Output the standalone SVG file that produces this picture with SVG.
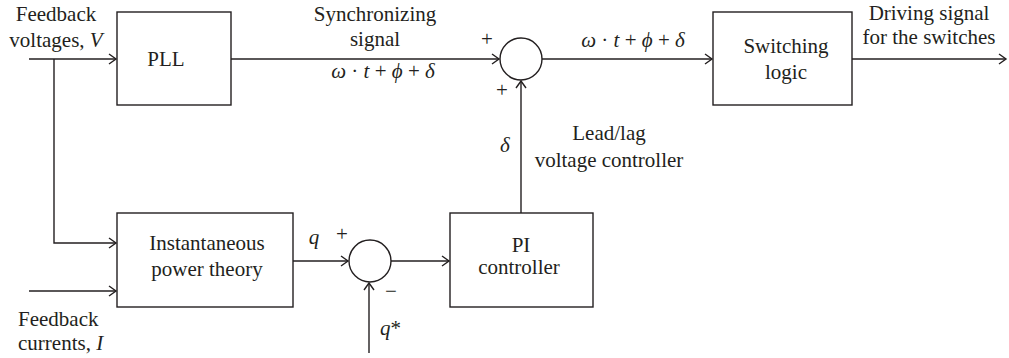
<svg xmlns="http://www.w3.org/2000/svg" width="1009" height="358" viewBox="0 0 1009 358">
<style>
.b{fill:#fff;stroke:#231f20;stroke-width:1.4}
.l{fill:none;stroke:#231f20;stroke-width:1.4}
text{font-family:"Liberation Serif","Times New Roman",serif;font-size:21px;fill:#231f20}
.m{text-anchor:middle}
.i{font-style:italic}
</style>
<defs>
<marker id="ah" markerUnits="userSpaceOnUse" markerWidth="12" markerHeight="14" refX="10" refY="7" orient="auto" overflow="visible">
<path d="M3 2 L10 7 L3 12" fill="none" stroke="#231f20" stroke-width="1.4"/>
</marker>
</defs>
<g id="connectors">
<path class="l" d="M29 59 H116" marker-end="url(#ah)"/>
<path class="l" d="M54 59 V243 H116" marker-end="url(#ah)"/>
<path class="l" d="M29 291 H116" marker-end="url(#ah)"/>
<path class="l" d="M231 59 H499" marker-end="url(#ah)"/>
<path class="l" d="M542 59 H712" marker-end="url(#ah)"/>
<path class="l" d="M852 59 H1006" marker-end="url(#ah)"/>
<path class="l" d="M521 213 V81" marker-end="url(#ah)"/>
<path class="l" d="M293 261 H348" marker-end="url(#ah)"/>
<path class="l" d="M391 261 H449" marker-end="url(#ah)"/>
<path class="l" d="M369 353 V283" marker-end="url(#ah)"/>
</g>
<g id="label-fv">
<text class="m" x="56" y="21">Feedback</text>
<text class="m" x="56" y="47">voltages, <tspan class="i">V</tspan></text>
</g>
<g id="label-fi">
<text x="18" y="326">Feedback</text>
<text x="18" y="350">currents, <tspan class="i">I</tspan></text>
</g>
<g id="pll">
<rect class="b" x="117" y="12" width="114" height="93"/>
<text class="m" x="166" y="66">PLL</text>
</g>
<g id="sync-label">
<text class="m" x="375" y="21">Synchronizing</text>
<text class="m" x="375" y="46">signal</text>
<text class="m" x="383" y="78"><tspan class="i">ω</tspan> · <tspan class="i">t</tspan> + <tspan class="i">ϕ</tspan> + <tspan class="i">δ</tspan></text>
</g>
<g id="sum1">
<circle class="b" cx="521" cy="59" r="21"/>
<text class="m" x="487" y="46">+</text>
<text class="m" x="502" y="97">+</text>
</g>
<g id="out-label">
<text class="m" x="633" y="47"><tspan class="i">ω</tspan> · <tspan class="i">t</tspan> + <tspan class="i">ϕ</tspan> + <tspan class="i">δ</tspan></text>
</g>
<g id="switching">
<rect class="b" x="713" y="12" width="139" height="93"/>
<text class="m" x="786" y="53">Switching</text>
<text class="m" x="786" y="79">logic</text>
</g>
<g id="drive-label">
<text class="m" x="929" y="20">Driving signal</text>
<text class="m" x="929" y="44">for the switches</text>
</g>
<g id="leadlag-label">
<text class="m" x="505" y="152" font-style="italic">δ</text>
<text class="m" x="609" y="140">Lead/lag</text>
<text class="m" x="609" y="167">voltage controller</text>
</g>
<g id="ipt">
<rect class="b" x="117" y="213" width="176" height="94"/>
<text class="m" x="207" y="250">Instantaneous</text>
<text class="m" x="207" y="276">power theory</text>
</g>
<g id="sum2">
<circle class="b" cx="370" cy="261" r="21"/>
<text class="i" x="314" y="244" text-anchor="middle">q</text>
<text class="m" x="342" y="241">+</text>
<text class="m" x="391" y="298">−</text>
<text x="380" y="335"><tspan class="i">q</tspan>*</text>
</g>
<g id="pi">
<rect class="b" x="450" y="213" width="143" height="94"/>
<text class="m" x="521" y="252">PI</text>
<text class="m" x="519" y="274">controller</text>
</g>
</svg>
